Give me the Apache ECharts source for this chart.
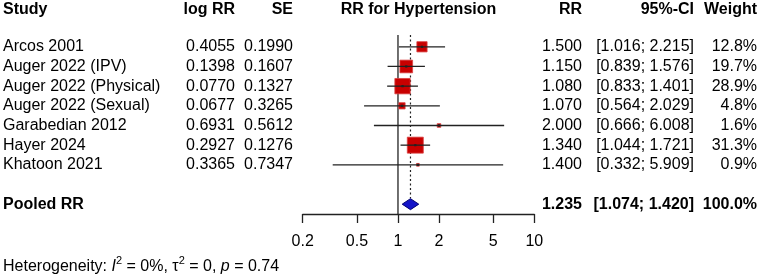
<!DOCTYPE html>
<html>
<head>
<meta charset="utf-8">
<script src="https://cdn.jsdelivr.net/npm/echarts@6/dist/echarts.min.js"></script>
<style>html,body{margin:0;padding:0;background:#fff}#c{width:760px;height:276px}</style>
</head>
<body>
<div id="c"></div>
<script>
const studies = ["Arcos 2001","Auger 2022 (IPV)","Auger 2022 (Physical)","Auger 2022 (Sexual)","Garabedian 2012","Hayer 2024","Khatoon 2021"];
const logRR = [0.4055,0.1398,0.0770,0.0677,0.6931,0.2927,0.3365];
const se = [0.1990,0.1607,0.1327,0.3265,0.5612,0.1276,0.7347];
const rr = [1.500,1.150,1.080,1.070,2.000,1.340,1.400];
const ciLow = [1.016,0.839,0.833,0.564,0.666,1.044,0.332];
const ciHigh = [2.215,1.576,1.401,2.029,6.008,1.721,5.909];
const weight = [12.8,19.7,28.9,4.8,1.6,31.3,0.9];
const pooledRR = 1.235, pooledLow = 1.074, pooledHigh = 1.420, pooledWeight = 100.0;
const tickValues = [0.2,0.5,1,2,5,10];
const headers = ["Study","log RR","SE","RR for Hypertension","RR","95%-CI","Weight"];
const hetI2 = "0%", hetTau2 = "0", hetP = "0.74";

const FONT = "'Liberation Sans', Arial, sans-serif";
const TXT = '#000';
const LINE = '#222';
const pooledRow = studies.length + 1;
const headerRow = -1.9;
const L = Math.log10;

// column layout (pixels)
const colStudy = 3, colLog = 235, colSE = 293, colRR = 582, colCI = 694, colW = 757, colPlotMid = 418.5;

function fmt(v, d){ return v.toFixed(d); }

const chart = echarts.init(document.getElementById('c'), null, {renderer:'canvas'});

function txt(x, y, text, align, bold){
  return {type:'text', x:x, y:y, style:{text:text, align:align, verticalAlign:'middle',
    fontSize:16, fontFamily:FONT, fontWeight: bold ? 'bold' : 'normal', fill:TXT}};
}

const tableData = studies.map((s,i)=>[0,i,i]);
tableData.push([0,pooledRow,-1]);
tableData.push([0,headerRow,-2]);

const option = {
  animation:false,
  grid:{left:302.7, right:225.7, top:35, bottom:62},
  xAxis:{
    type:'value', min:L(tickValues[0]), max:L(tickValues[tickValues.length-1]),
    axisLine:{show:true, onZero:false, lineStyle:{color:LINE, width:1.3}},
    axisTick:{show:true, customValues:tickValues.map(L), length:9, lineStyle:{color:LINE, width:1.3}},
    axisLabel:{show:true, customValues:tickValues.map(L), margin:20, fontSize:16, fontFamily:FONT, color:TXT,
      showMinLabel:true, showMaxLabel:true,
      formatter:function(v){ const t = tickValues.find(t=>Math.abs(L(t)-v)<1e-6); return t===undefined?'':String(t); }},
    splitLine:{show:false}
  },
  yAxis:{type:'value', inverse:true, min:-0.6, max:pooledRow+0.5, show:false},
  series:[
    { // reference lines
      type:'custom', z:1, silent:true,
      data:[[0]],
      renderItem:function(params, api){
        const top0 = api.coord([0,-0.6]);
        const bot0 = api.coord([0,pooledRow+0.5]);
        const topP = api.coord([L(pooledRR),-0.6]);
        const botP = api.coord([L(pooledRR),pooledRow]);
        return {type:'group', children:[
          {type:'line', shape:{x1:top0[0],y1:top0[1],x2:bot0[0],y2:bot0[1]}, style:{stroke:LINE, lineWidth:1.3}},
          {type:'line', shape:{x1:topP[0],y1:topP[1],x2:botP[0],y2:botP[1]-6}, style:{stroke:LINE, lineWidth:1.2, lineDash:[2,2.5]}}
        ]};
      }
    },
    { // study squares and CIs
      type:'custom', z:2, silent:true,
      data:studies.map((s,i)=>[L(rr[i]), i, L(ciLow[i]), L(ciHigh[i]), weight[i]]),
      renderItem:function(params, api){
        const c = api.coord([api.value(0), api.value(1)]);
        const lo = api.coord([api.value(2), api.value(1)]);
        const hi = api.coord([api.value(3), api.value(1)]);
        const s = 2.86*Math.sqrt(api.value(4));
        return {type:'group', children:[
          {type:'rect', shape:{x:c[0]-s/2, y:c[1]-s/2, width:s, height:s}, style:{fill:'#c80000', stroke:'#d94040', lineWidth:0.8}},
          {type:'line', shape:{x1:lo[0], y1:c[1], x2:hi[0], y2:c[1]}, style:{stroke:LINE, lineWidth:1.3}},
          {type:'rect', shape:{x:c[0]-1.1, y:c[1]-1.1, width:2.2, height:2.2}, style:{fill:'#222'}}
        ]};
      }
    },
    { // pooled diamond
      type:'custom', z:3, silent:true,
      data:[[L(pooledRR), pooledRow, L(pooledLow), L(pooledHigh)]],
      renderItem:function(params, api){
        const c = api.coord([api.value(0), api.value(1)]);
        const lo = api.coord([api.value(2), api.value(1)]);
        const hi = api.coord([api.value(3), api.value(1)]);
        const h = 5.5;
        return {type:'polygon', shape:{points:[[lo[0],c[1]],[c[0],c[1]-h],[hi[0],c[1]],[c[0],c[1]+h]]},
          style:{fill:'#1414c8', stroke:'#000070', lineWidth:1}};
      }
    },
    { // table text
      type:'custom', z:4, silent:true, clip:false,
      data:tableData,
      renderItem:function(params, api){
        const y = api.coord([0, api.value(1)])[1];
        const k = api.value(2);
        if (k === -2) {
          return {type:'group', children:[
            txt(colStudy, y, headers[0], 'left', true),
            txt(colLog, y, headers[1], 'right', true),
            txt(colSE, y, headers[2], 'right', true),
            txt(colPlotMid, y, headers[3], 'center', true),
            txt(colRR, y, headers[4], 'right', true),
            txt(colCI, y, headers[5], 'right', true),
            txt(colW, y, headers[6], 'right', true)
          ]};
        }
        if (k === -1) {
          return {type:'group', children:[
            txt(colStudy, y, 'Pooled RR', 'left', true),
            txt(colRR, y, fmt(pooledRR,3), 'right', true),
            txt(colCI, y, '[' + fmt(pooledLow,3) + '; ' + fmt(pooledHigh,3) + ']', 'right', true),
            txt(colW, y, fmt(pooledWeight,1) + '%', 'right', true)
          ]};
        }
        return {type:'group', children:[
          txt(colStudy, y, studies[k], 'left', false),
          txt(colLog, y, fmt(logRR[k],4), 'right', false),
          txt(colSE, y, fmt(se[k],4), 'right', false),
          txt(colRR, y, fmt(rr[k],3), 'right', false),
          txt(colCI, y, '[' + fmt(ciLow[k],3) + '; ' + fmt(ciHigh[k],3) + ']', 'right', false),
          txt(colW, y, fmt(weight[k],1) + '%', 'right', false)
        ]};
      }
    }
  ],
  graphic:[{
    type:'text', left:3, top:255,
    style:{
      text:'Heterogeneity: {i|I}{sup|2} = ' + hetI2 + ', τ{sup|2} = ' + hetTau2 + ', {i|p} = ' + hetP,
      fontSize:16, fontFamily:FONT, fill:TXT, lineHeight:24,
      rich:{
        i:{fontStyle:'italic', fontSize:16, fontFamily:FONT, lineHeight:24},
        sup:{fontSize:11, fontFamily:FONT, verticalAlign:'top', lineHeight:11}
      }
    }
  }]
};
chart.setOption(option);
</script>
</body>
</html>
